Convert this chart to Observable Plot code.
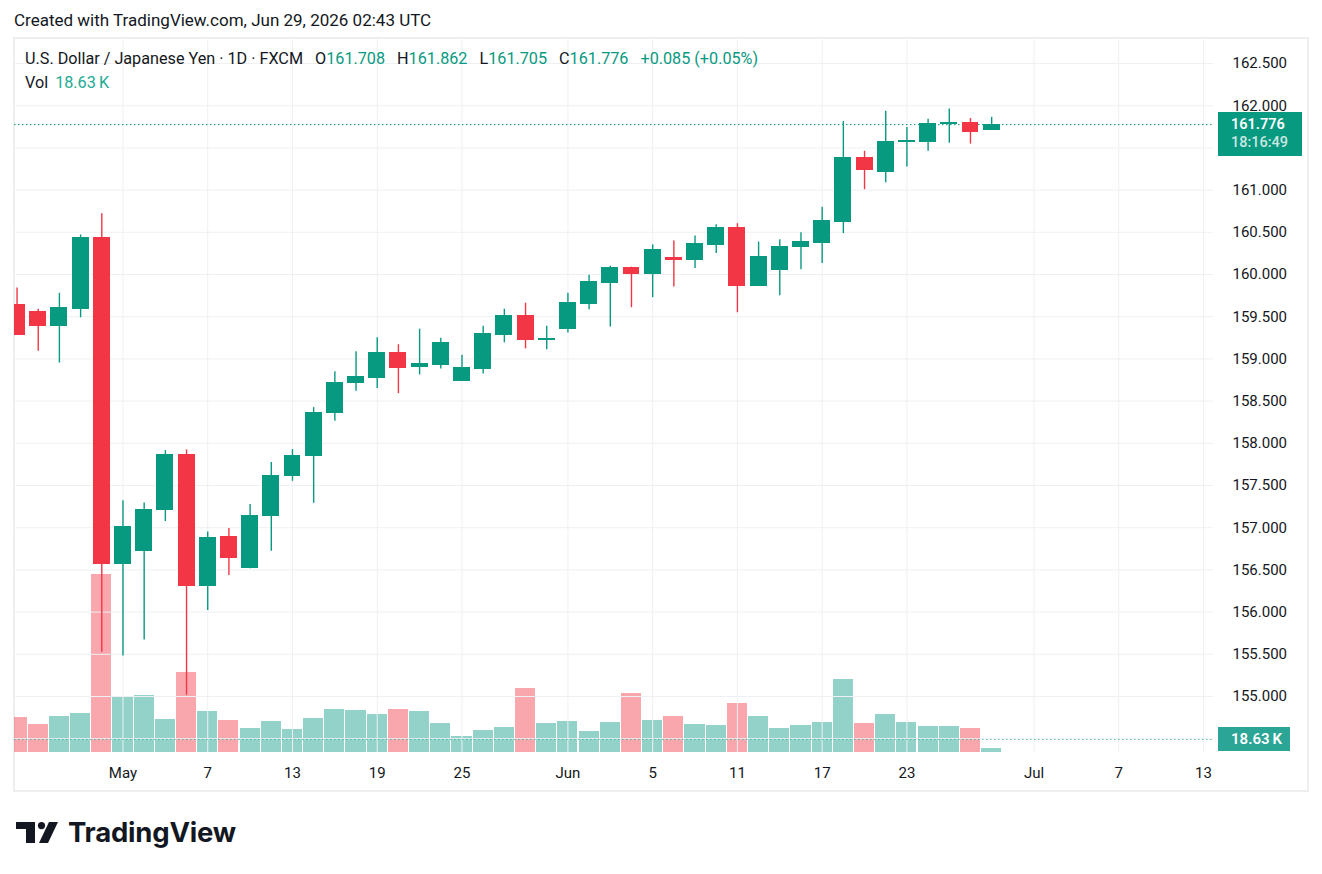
<!DOCTYPE html>
<html>
<head>
<meta charset="utf-8">
<script src="https://cdn.jsdelivr.net/npm/d3@7"></script>
<script src="https://cdn.jsdelivr.net/npm/@observablehq/plot@0.6"></script>
<style>
  html, body { margin: 0; padding: 0; background: #ffffff; }
  body { width: 1322px; height: 874px; overflow: hidden; font-family: Roboto, "Noto Sans", sans-serif; color: #131722; }
  #root { position: relative; width: 1322px; height: 874px; }
  #hdr { position: absolute; left: 14px; top: 8px; font-size: 17px; line-height: 24px; white-space: nowrap; }
  #frame { position: absolute; left: 13px; top: 37px; width: 1296px; height: 755px; box-sizing: border-box; border: 2px solid #eeeeee; }
  .layer { position: absolute; left: 0; top: 38px; }
  .layer svg { display: block; }
  #legend { position: absolute; left: 25px; top: 47px; font-size: 16.2px; line-height: 24px; white-space: nowrap; }
  #legend .v { color: #089981; }
  #legend .g { margin-left: 12px; }
  #legend .vv { color: #22ab94; margin-left: 7px; }
  #pricebox { position: absolute; left: 1218px; width: 84px; height: 44px; background: #089981; color: #fff; font-size: 14.5px; box-sizing: border-box; padding-left: 13px; }
  #pricebox div { height: 18px; line-height: 17px; overflow: hidden; }
  #pricebox .t1 { margin-top: 4px; font-weight: 600; }
  #pricebox .t2 { color: rgba(255,255,255,0.8); font-weight: 500; }
  #volbox { position: absolute; left: 1218px; width: 72px; height: 24px; background: #2aa596; color: #fff; font-size: 15px; line-height: 24px; box-sizing: border-box; padding-left: 13px; font-weight: 600; }
  #logo { position: absolute; left: 16px; top: 816px; height: 32px; }
  #logo svg { position: absolute; left: 0; top: 6px; }
  #logo span { position: absolute; left: 52px; top: 0; font-family: Inter, sans-serif; font-weight: 700; font-size: 27.5px; line-height: 32px; color: #131722; letter-spacing: -0.2px; white-space: nowrap; }
</style>
</head>
<body>
<div id="root">
  <div id="hdr">Created with TradingView.com, Jun 29, 2026 02:43 UTC</div>
  <div id="frame"></div>
  <div id="vol" class="layer"></div>
  <div id="main" class="layer"></div>
  <div id="legend"></div>
  <div id="pricebox"></div>
  <div id="volbox"></div>
  <div id="logo">
    <svg width="44" height="21" viewBox="0 0 44 21">
      <path d="M0 0 H19 V21 H10 V7 H0 Z" fill="#131722"/>
      <circle cx="25.5" cy="3.6" r="3.6" fill="#131722"/>
      <path d="M33 0 H42 L32 21 H23 Z" fill="#131722"/>
    </svg>
    <span>TradingView</span>
  </div>
</div>
<script>
// ---- data (USD/JPY daily, FXCM) ----
const dates = [
  "2026-04-24","2026-04-27","2026-04-28","2026-04-29","2026-04-30",
  "2026-05-01","2026-05-04","2026-05-05","2026-05-06","2026-05-07",
  "2026-05-08","2026-05-11","2026-05-12","2026-05-13","2026-05-14",
  "2026-05-15","2026-05-18","2026-05-19","2026-05-20","2026-05-21",
  "2026-05-22","2026-05-25","2026-05-26","2026-05-27","2026-05-28",
  "2026-05-29","2026-06-01","2026-06-02","2026-06-03","2026-06-04",
  "2026-06-05","2026-06-08","2026-06-09","2026-06-10","2026-06-11",
  "2026-06-12","2026-06-15","2026-06-16","2026-06-17","2026-06-18",
  "2026-06-19","2026-06-22","2026-06-23","2026-06-24","2026-06-25",
  "2026-06-26","2026-06-29"
];
const open = [
  159.637,159.553,159.390,159.593,160.433,
  156.572,156.726,157.205,157.865,156.312,
  156.884,156.521,157.136,157.610,157.846,
  158.356,158.711,158.778,159.074,158.905,
  158.929,158.739,158.881,159.285,159.506,
  159.225,159.356,159.652,159.901,160.079,
  160.006,160.198,160.177,160.355,160.555,
  159.866,160.057,160.321,160.379,160.621,
  161.379,161.217,161.570,161.566,161.785,
  161.793,161.708
];
const high = [
  159.839,159.588,159.777,160.468,160.719,
  157.319,157.293,157.913,157.922,156.950,
  156.990,157.274,157.772,157.925,158.423,
  158.849,159.086,159.251,159.168,159.352,
  159.245,159.043,159.387,159.589,159.660,
  159.387,159.779,159.992,160.099,160.087,
  160.351,160.398,160.457,160.589,160.602,
  160.385,160.411,160.496,160.798,161.813,
  161.460,161.934,161.742,161.838,161.960,
  161.848,161.862
];
const low = [
  159.280,159.091,158.951,159.487,155.525,
  155.481,155.670,157.073,155.015,156.020,
  156.434,156.515,156.722,157.550,157.290,
  158.261,158.616,158.648,158.588,158.810,
  158.881,158.735,158.822,159.190,159.119,
  159.107,159.308,159.581,159.379,159.606,
  159.726,159.853,160.070,160.249,159.547,
  159.860,159.747,160.057,160.131,160.485,
  161.005,161.086,161.273,161.460,161.556,
  161.545,161.705
];
const close = [
  159.285,159.390,159.602,160.433,156.572,
  157.007,157.209,157.865,156.312,156.875,
  156.639,157.144,157.618,157.854,158.363,
  158.719,158.790,159.074,158.896,158.937,
  159.186,158.889,159.292,159.506,159.225,
  159.232,159.660,159.909,160.077,160.011,
  160.291,160.177,160.364,160.555,159.866,
  160.206,160.326,160.385,160.631,161.379,
  161.242,161.566,161.576,161.778,161.793,
  161.691,161.776
];
// volume in thousands
const volume = [
  161,128,166,180,829,
  254,264,152,371,189,
  149,112,144,107,158,
  200,195,177,199,190,
  134,73,101,115,296,
  134,143,96,139,276,
  149,167,130,125,229,
  167,112,124,138,337,
  133,175,141,119,123,
  112,18.63
];
const tickDates  = ["2026-05-01","2026-05-07","2026-05-13","2026-05-19","2026-05-25","2026-06-01","2026-06-05","2026-06-11","2026-06-17","2026-06-23","2026-07-01","2026-07-07","2026-07-13"];
const tickLabels = ["May","7","13","19","25","Jun","5","11","17","23","Jul","7","13"];
const priceGrid   = [154.5,155,155.5,156,156.5,157,157.5,158,158.5,159,159.5,160,160.5,161,161.5,162,162.5];
// 161.500 is hidden by the last-price label in the reference
const priceLabels = [155,155.5,156,156.5,157,157.5,158,158.5,159,159.5,160,160.5,161,162,162.5];
const countdown = "18:16:49";

// ---- trading-day calendar (weekdays) to place bars by index ----
const calendar = [];
for (let t = Date.UTC(2026, 3, 24); t <= Date.UTC(2026, 6, 20); t += 864e5) {
  const d = new Date(t), wd = d.getUTCDay();
  if (wd > 0 && wd < 6) calendar.push(d.toISOString().slice(0, 10));
}
const idx = (s) => calendar.indexOf(s);

const UP = "#089981", DOWN = "#F23645";
const rows = dates.map((d, k) => ({
  i: idx(d), o: open[k], h: high[k], l: low[k], c: close[k], v: volume[k],
  up: close[k] >= open[k]
}));
const ticks = tickDates.map((d, k) => ({i: idx(d), label: tickLabels[k]}));

// visible window (bar-index units) and price window
const xDomain = [-0.12, 56.47];
const yDomain = [154.3365, 162.7962];

const W = 1322, H = 753;
const M = {left: 14, right: 109, top: 0, bottom: 39};
const paneH = H - M.top - M.bottom;
const font = "Roboto, 'Noto Sans', sans-serif";

// ---- volume layer ----
const volMax = d3.max(volume);
const vol = Plot.plot({
  width: W, height: H,
  marginLeft: M.left, marginRight: M.right, marginTop: M.top, marginBottom: M.bottom,
  x: {domain: xDomain, axis: null},
  y: {domain: [0, volMax], range: [paneH, paneH * 0.75], axis: null},
  style: {background: "transparent"},
  marks: [
    Plot.rect(rows, {
      x1: d => d.i - 0.475, x2: d => d.i + 0.475, y1: 0, y2: "v",
      fill: d => d.up ? UP : DOWN, fillOpacity: 0.44, clip: true, shapeRendering: "crispEdges"
    })
  ]
});
const vy = vol.scale("y");
const lastVol = volume[volume.length - 1];
const volLabelY = Math.min(vy.apply(lastVol), paneH - 13);

// ---- main price layer ----
const lastClose = close[close.length - 1];
const main = Plot.plot({
  width: W, height: H,
  marginLeft: M.left, marginRight: M.right, marginTop: M.top, marginBottom: M.bottom,
  x: {domain: xDomain, axis: null},
  y: {domain: yDomain, axis: null},
  style: {background: "transparent", fontFamily: font, overflow: "visible"},
  marks: [
    Plot.ruleY(priceGrid, {x1: xDomain[0], x2: xDomain[1], stroke: "#eef0f3", strokeWidth: 1}),
    Plot.ruleX(ticks, {x: "i", y1: yDomain[0], y2: yDomain[1], stroke: "#eef0f3", strokeWidth: 1}),
    Plot.ruleY([lastClose], {x1: xDomain[0], x2: xDomain[1], stroke: UP, strokeWidth: 1, strokeDasharray: "1.5,2.5"}),
    Plot.ruleY([yDomain[0]], {x1: xDomain[0], x2: xDomain[1], stroke: "#22ab94", strokeOpacity: 0.75, strokeDasharray: "1.5,2.5",
      dy: volLabelY - paneH}),
    Plot.ruleX(rows, {x: "i", y1: "l", y2: "h", stroke: d => d.up ? UP : DOWN, strokeWidth: 1.4, clip: true}),
    Plot.rect(rows, {
      x1: d => d.i - 0.4, x2: d => d.i + 0.4, y1: "o", y2: "c",
      fill: d => d.up ? UP : DOWN, insetTop: -0.5, insetBottom: -0.5, clip: true, shapeRendering: "crispEdges"
    }),
    Plot.text(priceLabels, {
      x: xDomain[1], y: d => d, text: d => d.toFixed(3), textAnchor: "start", dx: 19,
      fontSize: 15, fill: "#131722"
    }),
    Plot.text(ticks, {
      x: "i", y: yDomain[0], text: "label", dy: 21, fontSize: 15, fill: "#131722", textAnchor: "middle"
    })
  ]
});
document.getElementById("vol").appendChild(vol);
document.getElementById("main").appendChild(main);

// ---- legend ----
const prevClose = close[close.length - 2];
const chg = lastClose - prevClose;
const pct = chg / prevClose * 100;
const sign = (v) => (v >= 0 ? "+" : "−");
const f3 = (v) => v.toFixed(3);
document.getElementById("legend").innerHTML =
  `<div>U.S. Dollar / Japanese Yen · 1D · FXCM` +
  `<span class="g">O<span class="v">${f3(open.at(-1))}</span></span>` +
  `<span class="g">H<span class="v">${f3(high.at(-1))}</span></span>` +
  `<span class="g">L<span class="v">${f3(low.at(-1))}</span></span>` +
  `<span class="g">C<span class="v">${f3(lastClose)}</span></span>` +
  `<span class="g v">${sign(chg)}${Math.abs(chg).toFixed(3)} (${sign(pct)}${Math.abs(pct).toFixed(2)}%)</span></div>` +
  `<div>Vol<span class="vv">${lastVol.toFixed(2)}\u2009K</span></div>`;

// ---- right-axis value labels ----
const py = main.scale("y").apply(lastClose) + 38;
const pb = document.getElementById("pricebox");
pb.style.top = (py - 12) + "px";
pb.innerHTML = `<div class="t1">${f3(lastClose)}</div><div class="t2">${countdown}</div>`;
const vb = document.getElementById("volbox");
vb.style.top = (volLabelY + 38 - 12) + "px";
vb.textContent = `${lastVol.toFixed(2)}\u2009K`;
</script>
</body>
</html>
